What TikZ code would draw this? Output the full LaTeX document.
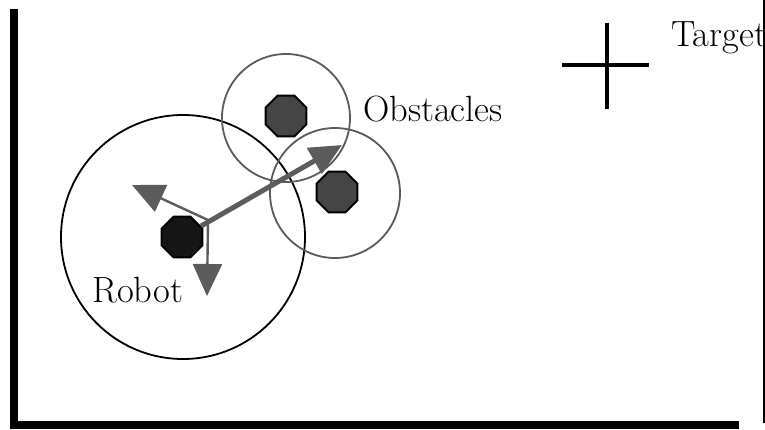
\documentclass[tikz,border=0pt]{standalone}
\usetikzlibrary{shapes.geometric,arrows.meta}
\definecolor{zonegray}{HTML}{5A5A5A}
\definecolor{arrowgray}{HTML}{5C5C5C}
\definecolor{obsfill}{HTML}{454545}
\definecolor{robfill}{HTML}{151515}
\begin{document}
\begin{tikzpicture}[x=1pt,y=-1pt,
  zone/.style={circle, draw, inner sep=0pt, minimum size=#1},
  octo/.style={regular polygon, regular polygon sides=8, draw=black, line width=2pt, inner sep=0pt, minimum size=44pt},
  lbl/.style={anchor=base west, inner sep=0pt, font=\fontsize{36.5}{44}\selectfont},
  headtip/.style={-{Triangle[length=32pt,width=29pt]}},
  thinarrow/.style={headtip, draw=arrowgray, fill=arrowgray, line width=2.4pt},
  thickarrow/.style={headtip, draw=arrowgray, fill=arrowgray, line width=5pt},
  crossline/.style={line width=4.5pt, black}]
\useasboundingbox (0,0) rectangle (765,430);
% frame
\fill[black] (10,9) rectangle (18,429);
\fill[black] (10,421) rectangle (739,429);
\draw[line width=1.5pt, black] (764,0) -- (764,423);
% zones
\node[zone=244pt, draw=black, line width=1.8pt] (robotzone) at (183,237) {};
\node[zone=128pt, draw=zonegray, line width=1.8pt] (zone1) at (286,118) {};
\node[zone=130pt, draw=zonegray, line width=1.8pt] (zone2) at (335,193) {};
% bodies
\node[octo, fill=robfill] (robot) at (182,237) {};
\node[octo, fill=obsfill] (obs1) at (286,116) {};
\node[octo, fill=obsfill] (obs2) at (337,192) {};
% arrows
\coordinate (o) at (208,220);
\coordinate (m1) at (132,185);
\coordinate (m2) at (207,296);
\coordinate (goal) at (342,145);
\draw[thinarrow] (o) -- (m1);
\draw[thinarrow] (o) -- (m2);
\draw[thickarrow] (robot) -- (goal);
% target cross
\coordinate (target) at (607,65);
\draw[crossline] (607,23) -- (607,109);
\draw[crossline] (562,65) -- (649,65);
% labels
\node[lbl] (tlbl) at (671,47) {Target};
\node[lbl] (olbl) at (363,122) {Obstacles};
\node[lbl] (rlbl) at (92,302) {Robot};
\end{tikzpicture}
\end{document}
